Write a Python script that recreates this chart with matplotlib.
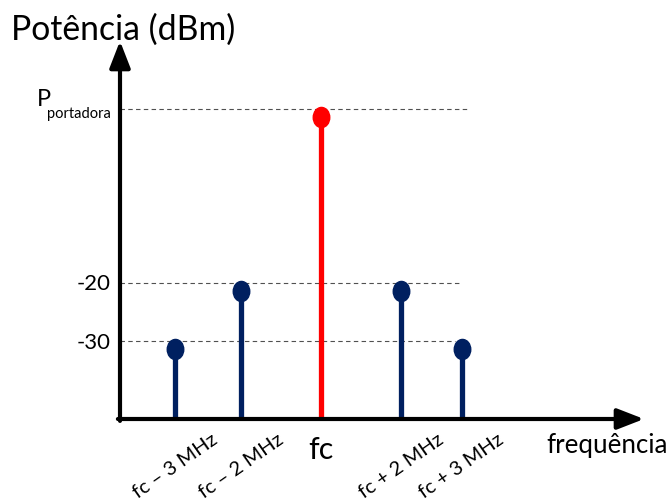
import matplotlib.pyplot as plt
import matplotlib.transforms as mtransforms
from matplotlib.path import Path

plt.rcParams['font.family'] = ['Lato', 'DejaVu Sans']

# schematic frequency positions (carrier at 0) and their labels
freq_labels = ['fc – 3 MHz', 'fc – 2 MHz', 'fc', 'fc + 2 MHz', 'fc + 3 MHz']
freq_pos = [-1.82, -1.0, 0.0, 1.0, 1.76]

# power of each spectral line in dBm
p_carrier = 10
power_dbm = [-30, -20, p_carrier, -20, -30]
stem_colors = ['#002060', '#002060', '#ff0000', '#002060', '#002060']

# reference levels marked on the vertical axis
level_values = [p_carrier, -20, -30]
level_ends = [1.84, 1.76, 1.68]

W, H = 670, 502
fig = plt.figure(figsize=(W / 100, H / 100), dpi=100)


def px(x, y):
    # pixel position (from top-left) -> figure fraction
    return x / W, 1 - y / H


ax = fig.add_axes([120 / W, 82 / H, 524 / W, 378 / H])
xmin, xmax = -2.51, 4.04
ymin, ymax = -43.4, 21.8
ax.set_xlim(xmin, xmax)
ax.set_ylim(ymin, ymax)
ax.axis('off')

# dashed guide lines
ax.hlines(level_values, xmin, level_ends, colors='#505050', lw=0.8,
          linestyles=(0, (4, 3)), zorder=1)

# stems
ax.vlines(freq_pos, ymin, power_dbm, colors=stem_colors, lw=3.8, zorder=2)

# oval heads hanging just under each level
oval = Path.unit_circle().transformed(mtransforms.Affine2D().scale(0.82, 1.0))
head_shift = ax.transData + mtransforms.ScaledTranslation(0, -0.08, fig.dpi_scale_trans)
for x, p, c in zip(freq_pos, power_dbm, stem_colors):
    ax.plot([x], [p], marker=oval, markersize=14.5, color=c, transform=head_shift,
            zorder=3, clip_on=False)

# axes with arrow heads
arrow = dict(arrowstyle='-|>,head_length=0.9,head_width=0.35', lw=3.0, color='black',
             shrinkA=0, shrinkB=0, mutation_scale=18)
ax.annotate('', xy=(1.0, 0.0), xytext=(-0.004, 0.0), xycoords='axes fraction',
            arrowprops=arrow)
ax.annotate('', xy=(0.0, 1.0), xytext=(0.0, -0.005), xycoords='axes fraction',
            arrowprops=arrow)

# axis titles
fig.text(*px(11, 30), 'Potência (dBm)', fontsize=24.3, ha='left', va='center')
fig.text(*px(546, 446), 'frequência', fontsize=18.6, ha='left', va='center')

# level labels
fig.text(*px(111, 284), '-20', fontsize=16, ha='right', va='center')
fig.text(*px(111, 343), '-30', fontsize=16, ha='right', va='center')
fig.text(*px(37, 100), 'P', fontsize=17, ha='left', va='center')
fig.text(*px(47, 114), 'portadora', fontsize=10.5, ha='left', va='center')

# frequency labels under the stems
for x, lab in zip(freq_pos, freq_labels):
    xd = ax.transData.transform((x, ymin))[0]
    if lab == 'fc':
        fig.text(xd / W, 1 - 450 / H, lab, fontsize=22, ha='center', va='center')
    else:
        fig.text(xd / W, 1 - 466 / H, lab, fontsize=14.5, rotation=35,
                 ha='center', va='center', rotation_mode='anchor')

fig.savefig('out.png', dpi=100)
